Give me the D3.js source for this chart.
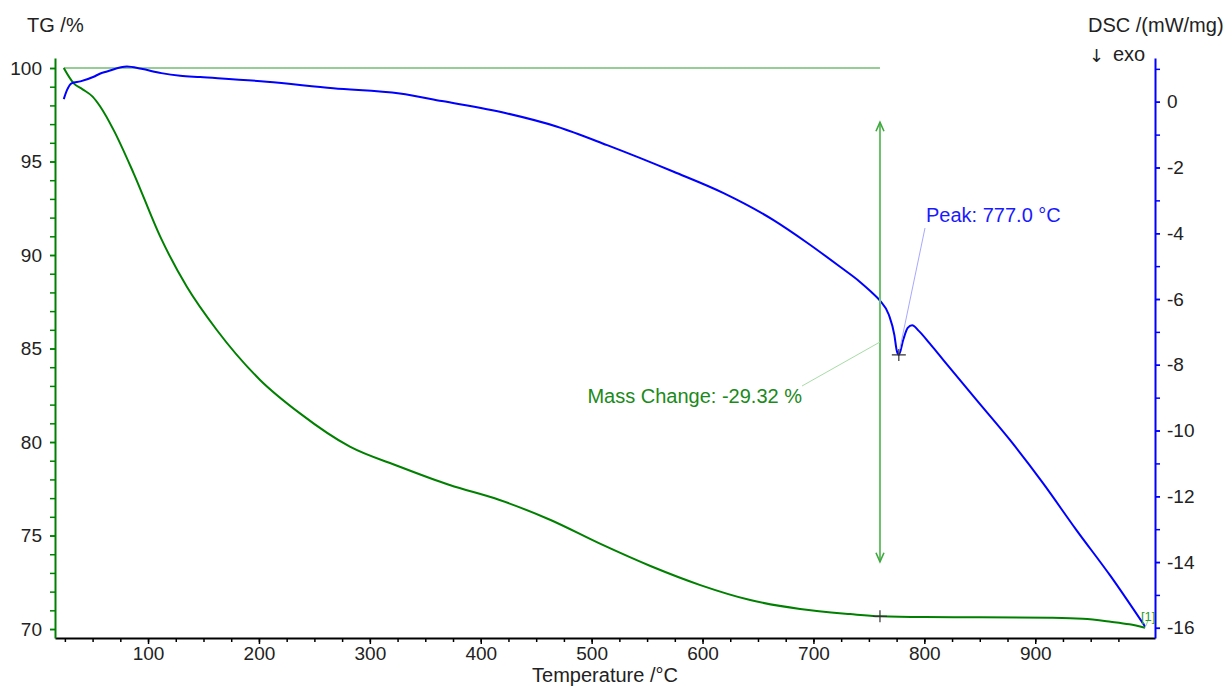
<!DOCTYPE html>
<html lang="en">
<head>
<meta charset="UTF-8">
<title>TG / DSC</title>
<script src="https://d3js.org/d3.v7.min.js"></script>
<style>
    body { margin: 0; background: #fff; }
    svg text { font-family: "Liberation Sans", Arial, sans-serif; }
</style>
</head>
<body>
<div id="chart"></div>
<script>
// TG curve: [temperature °C, mass %]
const tgData = [
    [24, 100.0], [33, 99.18], [41, 98.86], [50, 98.47], [57, 97.93], [69, 96.68],
    [87, 94.37], [111, 90.98], [135, 88.3], [162, 85.99], [201, 83.32], [237, 81.53],
    [282, 79.75], [327, 78.68], [372, 77.7], [417, 76.9], [463, 75.83], [508, 74.55],
    [553, 73.37], [598, 72.35], [643, 71.55], [688, 71.07], [733, 70.8], [760, 70.68],
    [800, 70.64], [850, 70.63], [913, 70.6], [943, 70.55], [968, 70.39], [985, 70.25], [999, 70.07]
]
// DSC curve: [temperature °C, mW/mg]
const dscData = [
    [24, 0.08], [27, 0.36], [31, 0.56], [39, 0.62], [51, 0.76], [57, 0.86], [63, 0.92],
    [81, 1.07], [94, 1.0], [112, 0.87], [129, 0.79], [147, 0.75], [207, 0.61], [267, 0.41],
    [327, 0.25], [365, 0.02], [423, -0.35], [469, -0.76], [514, -1.32], [574, -2.13],
    [619, -2.78], [664, -3.6], [694, -4.28], [724, -5.02], [742, -5.48], [752, -5.78],
    [760, -6.05], [768, -6.48], [773, -7.1], [775, -7.55], [777, -7.7], [781, -7.24],
    [785, -6.88], [789, -6.8], [795, -6.97], [805, -7.36], [817, -7.85], [847, -9.07],
    [877, -10.28], [907, -11.6], [937, -13.02], [968, -14.43], [999, -15.96]
]

const xTicks = [100, 200, 300, 400, 500, 600, 700, 800, 900]
const tgTicks = [70, 75, 80, 85, 90, 95, 100]
const dscTicks = [-16, -14, -12, -10, -8, -6, -4, -2, 0]

const massChange = { temp: 760, from: 97.1, to: 73.6, end: 70.68, label: 'Mass Change: -29.32 %' }
const peak = { temp: 777.0, value: -7.7, label: 'Peak: 777.0 °C' }

const W = 1226, H = 686
const mLeft = 55, mRight = 1155, mTop = 58, mBottom = 638

const green = '#008000', blue = '#0000ff'

var svg = d3.select('#chart').append('svg')
    .attr('width', W)
    .attr('height', H)

const x = d3.scaleLinear().domain([16.1, 1008]).range([mLeft, mRight])
const yTG = d3.scaleLinear().domain([69.52, 100.535]).range([mBottom, mTop])
const yDSC = d3.scaleLinear().domain([-16.31, 1.33]).range([mBottom, mTop])

const plain = d => String(d)

// axes
const minorX = d3.range(25, 1000, 25)
svg.append('g')
    .attr('transform', `translate(0, ${mBottom})`)
    .call(d3.axisBottom(x).tickValues(minorX).tickSize(4).tickFormat(''))
    .call(g => g.select('.domain').remove())
svg.append('g')
    .attr('transform', `translate(0, ${mBottom})`)
    .call(d3.axisBottom(x).tickValues(xTicks).tickSize(6).tickPadding(3).tickSizeOuter(0).tickFormat(plain))
    .call(g => g.select('.domain').attr('stroke-width', 2))

svg.append('g')
    .attr('transform', `translate(${mLeft}, 0)`)
    .call(d3.axisLeft(yTG).tickValues(d3.range(70, 101, 1)).tickSize(5).tickFormat(''))
    .call(g => g.select('.domain').remove())
    .call(g => g.selectAll('line').attr('stroke', green))
svg.append('g')
    .attr('transform', `translate(${mLeft}, 0)`)
    .call(d3.axisLeft(yTG).tickValues(tgTicks).tickSize(5).tickPadding(8).tickSizeOuter(0).tickFormat(plain))
    .call(g => g.select('.domain').attr('stroke-width', 2))
    .call(g => g.selectAll('path, line').attr('stroke', green))

svg.append('g')
    .attr('transform', `translate(${mRight}, 0)`)
    .call(d3.axisRight(yDSC).tickValues(d3.range(-16, 2, 1)).tickSize(5).tickFormat(''))
    .call(g => g.select('.domain').remove())
    .call(g => g.selectAll('line').attr('stroke', blue))
svg.append('g')
    .attr('transform', `translate(${mRight}, 0)`)
    .call(d3.axisRight(yDSC).tickValues(dscTicks).tickSize(5).tickPadding(7).tickSizeOuter(0).tickFormat(plain))
    .call(g => g.select('.domain').attr('stroke-width', 2))
    .call(g => g.selectAll('path, line').attr('stroke', blue))

svg.selectAll('.tick line').attr('stroke-width', 1.5)
svg.selectAll('.tick text').style('font-size', '19px').attr('fill', '#222')

// axis titles
svg.append('text').attr('x', 27).attr('y', 32).style('font-size', '20px').attr('fill', '#222').text('TG /%')
svg.append('text').attr('x', 1088).attr('y', 32).style('font-size', '20px').attr('fill', '#222').text('DSC /(mW/mg)')
svg.append('text').attr('x', 1089).attr('y', 62).style('font-size', '18px').style('font-family', '"DejaVu Sans", sans-serif')
    .attr('fill', '#222').text('↓')
svg.append('text').attr('x', 1113).attr('y', 61).style('font-size', '20px').attr('fill', '#222').text('exo')
svg.append('text').attr('x', 605).attr('y', 682).attr('text-anchor', 'middle')
    .style('font-size', '20px').attr('fill', '#222').text('Temperature /°C')

// reference line at the starting mass
svg.append('line')
    .attr('x1', x(tgData[0][0])).attr('x2', x(massChange.temp))
    .attr('y1', yTG(tgData[0][1])).attr('y2', yTG(tgData[0][1]))
    .attr('stroke', '#2f9a2f').attr('stroke-width', 1.2)

// curves
const tgLine = d3.line().x(d => x(d[0])).y(d => yTG(d[1])).curve(d3.curveMonotoneX)
const dscLine = d3.line().x(d => x(d[0])).y(d => yDSC(d[1])).curve(d3.curveMonotoneX)

svg.append('path').datum(tgData).attr('d', tgLine)
    .attr('fill', 'none').attr('stroke', green).attr('stroke-width', 2)
svg.append('path').datum(dscData).attr('d', dscLine)
    .attr('fill', 'none').attr('stroke', blue).attr('stroke-width', 2)

// mass change arrow
const ax = x(massChange.temp)
const aTop = yTG(massChange.from), aBot = yTG(massChange.to)
svg.append('line').attr('x1', ax).attr('x2', ax).attr('y1', aTop).attr('y2', aBot)
    .attr('stroke', '#6dbf6d').attr('stroke-width', 2)
svg.append('path')
    .attr('d', `M${ax - 4},${aTop + 9}L${ax},${aTop}L${ax + 4},${aTop + 9}M${ax - 4},${aBot - 9}L${ax},${aBot}L${ax + 4},${aBot - 9}`)
    .attr('fill', 'none').attr('stroke', '#3fa83f').attr('stroke-width', 1.6)

svg.append('line').attr('x1', 802).attr('y1', 386).attr('x2', ax).attr('y2', 342)
    .attr('stroke', '#a8dca8').attr('stroke-width', 1)
svg.append('text').attr('x', 802).attr('y', 403).attr('text-anchor', 'end')
    .style('font-size', '20px').attr('fill', '#1a8a1a').text(massChange.label)

// peak annotation
const px = x(peak.temp), py = yDSC(peak.value)
svg.append('line').attr('x1', 925).attr('y1', 228).attr('x2', px + 1).attr('y2', py - 6)
    .attr('stroke', '#a8a8ff').attr('stroke-width', 1)
svg.append('text').attr('x', 926).attr('y', 222)
    .style('font-size', '20px').attr('fill', '#1a1aff').text(peak.label)

// crosses
function cross(cx, cy) {
    svg.append('path')
        .attr('d', `M${cx - 7},${cy}H${cx + 7}M${cx},${cy - 6}V${cy + 6}`)
        .attr('stroke', '#333').attr('stroke-width', 1.2)
}
cross(ax, yTG(massChange.end))
cross(px, py)

// curve marker [1]
const last = tgData[tgData.length - 1]
svg.append('line').attr('x1', x(last[0])).attr('y1', yTG(last[1]))
    .attr('x2', x(last[0]) + 3).attr('y2', yTG(last[1]) - 7)
    .attr('stroke', '#8fcf8f').attr('stroke-width', 1)
svg.append('text').attr('x', 1141).attr('y', 621)
    .style('font-size', '13px').attr('fill', '#2a9a2a').text('[1]')
</script>
</body>
</html>
